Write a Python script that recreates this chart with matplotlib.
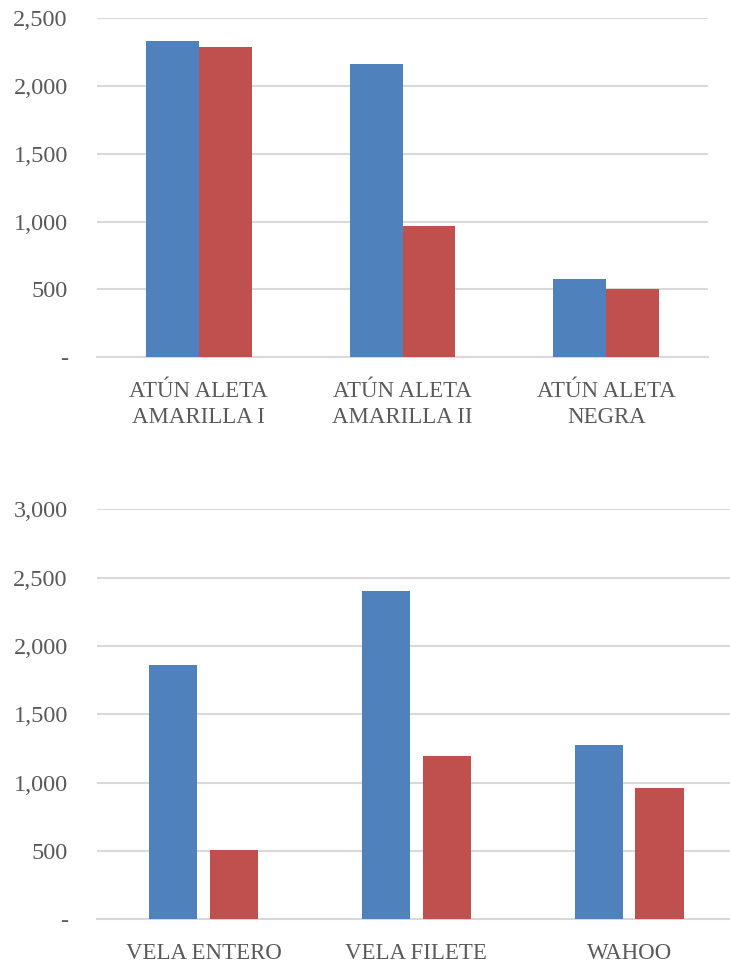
import matplotlib
matplotlib.use("Agg")
import matplotlib.pyplot as plt
import numpy as np
from matplotlib.ticker import FuncFormatter

# datos
cat_atun = ["ATÚN ALETA\nAMARILLA I", "ATÚN ALETA\nAMARILLA II", "ATÚN ALETA\nNEGRA"]
atun_azul = [2330, 2160, 575]
atun_rojo = [2290, 965, 507]

cat_otros = ["VELA ENTERO", "VELA FILETE", "WAHOO"]
otros_azul = [1863, 2400, 1278]
otros_rojo = [507, 1195, 961]

AZUL = "#4f81bd"
ROJO = "#c0504d"
GRIS = "#595959"
GRID = "#d9d9d9"

plt.rcParams["font.family"] = ["Liberation Serif", "DejaVu Serif"]

fig = plt.figure(figsize=(7.3, 9.64), dpi=100)


def fmt(v, pos):
    if v == 0:
        return "-"
    return f"{v:,.0f}"


def draw(ax, cats, azul, rojo, ymax, width, offset):
    x = np.arange(len(cats))
    ax.bar(x - offset / 2, azul, width, color=AZUL, zorder=3)
    ax.bar(x + offset / 2, rojo, width, color=ROJO, zorder=3)
    ax.set_xlim(-0.5, len(cats) - 0.5)
    ax.set_ylim(0, ymax)
    ax.set_yticks(np.arange(0, ymax + 1, 500))
    ax.yaxis.set_major_formatter(FuncFormatter(fmt))
    ax.grid(axis="y", color=GRID, linewidth=1.5, zorder=0)
    ax.set_xticks(x)
    ax.set_xticklabels(cats, linespacing=1.3)
    for s in ["top", "right", "left"]:
        ax.spines[s].set_visible(False)
    ax.spines["bottom"].set_color(GRID)
    ax.spines["bottom"].set_linewidth(1.5)
    ax.tick_params(axis="both", length=0, labelsize=16.5, colors=GRIS)
    ax.tick_params(axis="y", pad=21, labelsize=17.5)
    ax.tick_params(axis="x", pad=17)


ax1 = fig.add_axes([0.1329, 0.6294, 0.837, 0.3517])
draw(ax1, cat_atun, atun_azul, atun_rojo, 2500, 0.26, 0.26)

ax2 = fig.add_axes([0.1329, 0.0464, 0.875, 0.4253])
draw(ax2, cat_otros, otros_azul, otros_rojo, 3000, 0.226, 0.284)

fig.savefig("out.png", dpi=100)
